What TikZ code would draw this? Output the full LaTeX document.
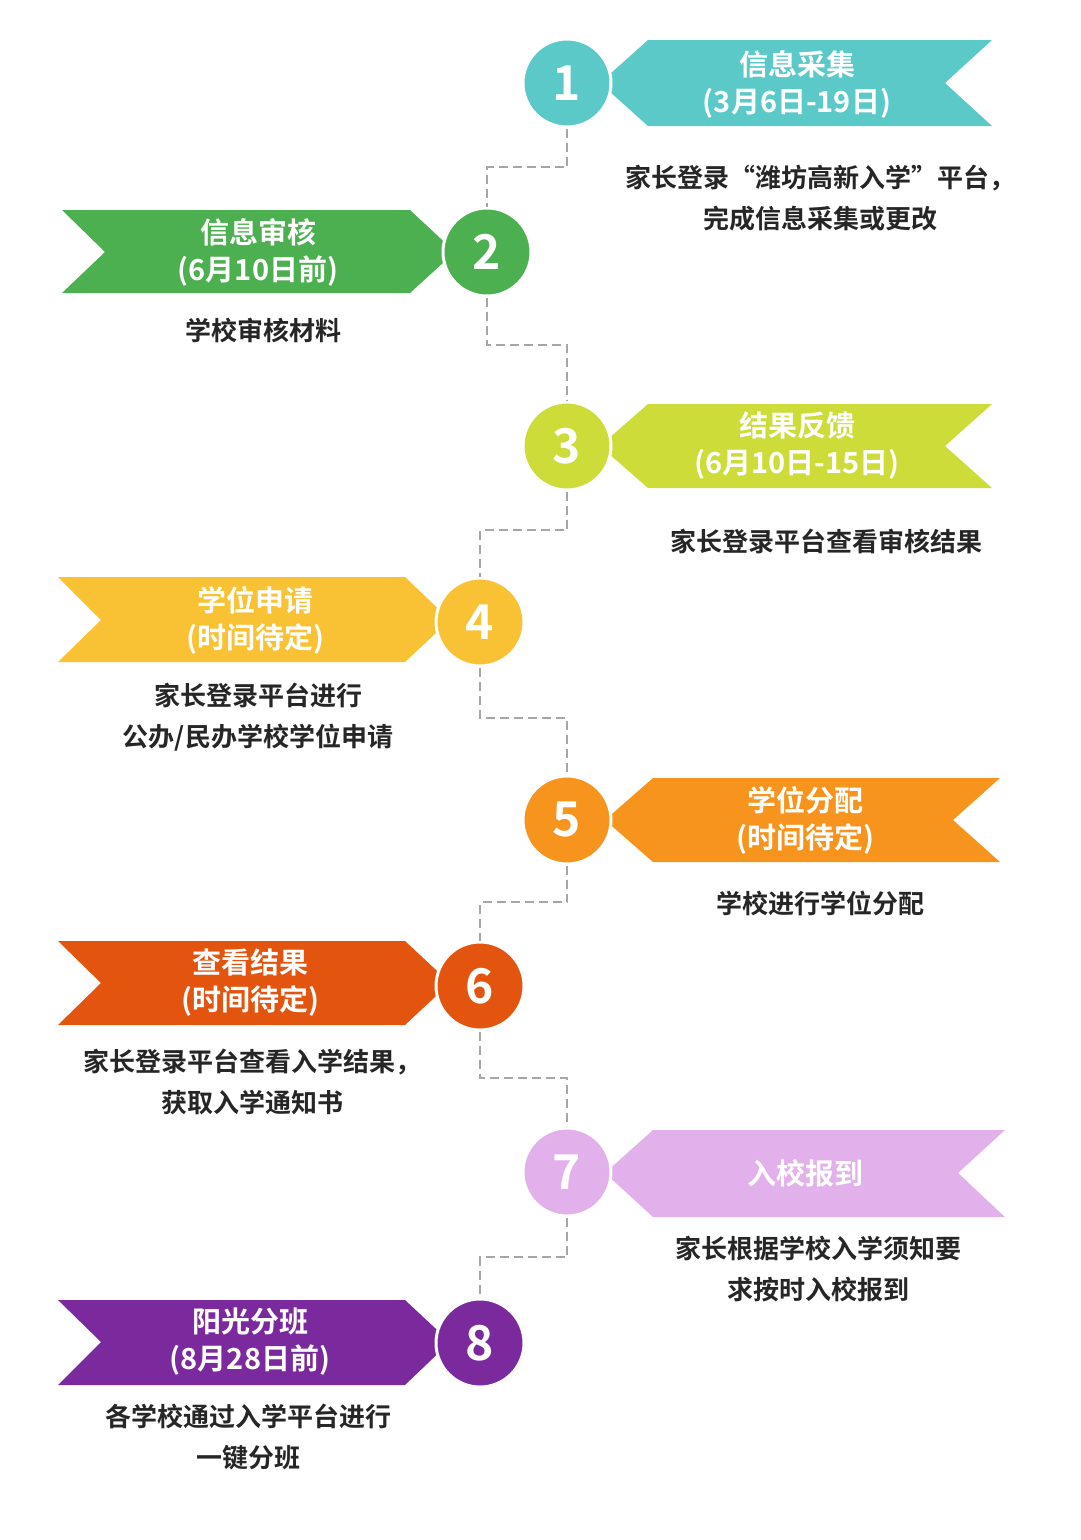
\documentclass[tikz,border=0pt]{standalone}
\usepackage{fontspec}
\setmainfont{Noto Sans CJK SC}[BoldFont={* Bold}]
\begin{document}
\begin{tikzpicture}[x=1pt,y=-1pt,
 num/.style={circle,draw=white,line width=3pt,minimum size=88pt,inner sep=0pt,text=white,font=\bfseries\fontsize{48}{48}\selectfont},
 ttl/.style={text=white,font=\bfseries\fontsize{29}{37}\selectfont,align=center},
 dsc/.style={text=black!85,font=\bfseries\fontsize{26}{41}\selectfont,align=center},
 conn/.style={draw=gray!70,line width=2.8pt,dash pattern=on 9pt off 5pt}]
\useasboundingbox (0,0) rectangle (1080,1540);
\definecolor{cA}{HTML}{5CC9C9}\definecolor{cB}{HTML}{4CAF50}
\definecolor{cC}{HTML}{CDDC39}\definecolor{cD}{HTML}{F9C134}
\definecolor{cE}{HTML}{F7941D}\definecolor{cF}{HTML}{E3540F}
\definecolor{cG}{HTML}{E2B0EA}\definecolor{cH}{HTML}{7B2A9E}
% right banners
\fill[cA] (600,83) -- (648,40) -- (992,40) -- (945,83) -- (992,126) -- (648,126) -- cycle;
\fill[cC] (600,446) -- (648,404) -- (992,404) -- (945,446) -- (992,488) -- (648,488) -- cycle;
\fill[cE] (605,820) -- (653,778) -- (1000,778) -- (953,820) -- (1000,862) -- (653,862) -- cycle;
\fill[cG] (605,1173) -- (653,1130) -- (1005,1130) -- (958,1173) -- (1005,1217) -- (653,1217) -- cycle;
% left banners
\fill[cB] (62,210) -- (410,210) -- (455,252) -- (410,293) -- (62,293) -- (105,252) -- cycle;
\fill[cD] (58,577) -- (405,577) -- (450,620) -- (405,662) -- (58,662) -- (101,620) -- cycle;
\fill[cF] (58,941) -- (405,941) -- (450,983) -- (405,1025) -- (58,1025) -- (101,983) -- cycle;
\fill[cH] (58,1300) -- (405,1300) -- (450,1342) -- (405,1385) -- (58,1385) -- (101,1342) -- cycle;
% circles
\node[num,fill=cA] (c1) at (567,83) {1};
\node[num,fill=cB] (c2) at (487,252) {2};
\node[num,fill=cC] (c3) at (567,446) {3};
\node[num,fill=cD] (c4) at (480,622) {4};
\node[num,fill=cE] (c5) at (567,820) {5};
\node[num,fill=cF] (c6) at (480,986) {6};
\node[num,fill=cG] (c7) at (567,1172) {7};
\node[num,fill=cH] (c8) at (480,1343) {8};
% connectors
\draw[conn] (c1.south) -- (567,167) -| (c2.north);
\draw[conn] (c2.south) -- (487,345) -| (c3.north);
\draw[conn] (c3.south) -- (567,530) -| (c4.north);
\draw[conn] (c4.south) -- (480,718) -| (c5.north);
\draw[conn] (c5.south) -- (567,902) -| (c6.north);
\draw[conn] (c6.south) -- (480,1078) -| (c7.north);
\draw[conn] (c7.south) -- (567,1257) -| (c8.north);
% titles
\node[ttl] (t1) at (797,84) {信息采集\\(3月6日-19日)};
\node[ttl] (t2) at (258,252) {信息审核\\(6月10日前)};
\node[ttl] (t3) at (797,446) {结果反馈\\(6月10日-15日)};
\node[ttl] (t4) at (255,620) {学位申请\\(时间待定)};
\node[ttl] (t5) at (805,820) {学位分配\\(时间待定)};
\node[ttl] (t6) at (250,983) {查看结果\\(时间待定)};
\node[ttl] (t7) at (805,1173) {入校报到};
\node[ttl] (t8) at (250,1342) {阳光分班\\(8月28日前)};
% descriptions
\node[dsc] (d1) at (820,198) {家长登录“潍坊高新入学”平台，\\完成信息采集或更改};
\node[dsc] (d2) at (263,330) {学校审核材料};
\node[dsc] (d3) at (826,541) {家长登录平台查看审核结果};
\node[dsc] (d4) at (258,717) {家长登录平台进行\\公办/民办学校学位申请};
\node[dsc] (d5) at (820,903) {学校进行学位分配};
\node[dsc] (d6) at (252,1082) {家长登录平台查看入学结果，\\获取入学通知书};
\node[dsc] (d7) at (818,1269) {家长根据学校入学须知要\\求按时入校报到};
\node[dsc] (d8) at (248,1437) {各学校通过入学平台进行\\一键分班};
\end{tikzpicture}
\end{document}
